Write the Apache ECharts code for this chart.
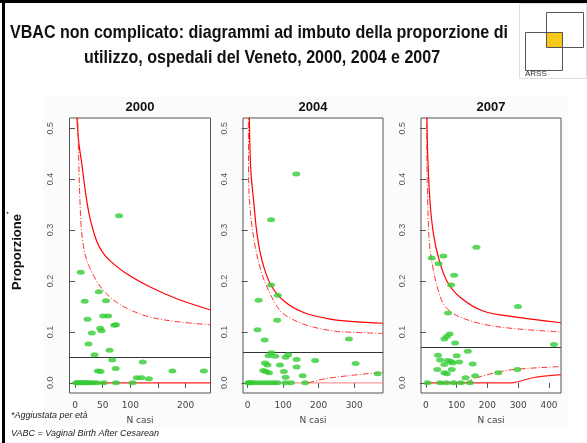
<!DOCTYPE html>
<html>
<head>
<meta charset="utf-8">
<script src="https://cdn.jsdelivr.net/npm/echarts@6/dist/echarts.min.js"></script>
<style>
  html, body { margin: 0; padding: 0; background: #fff; }
  #main { width: 587px; height: 443px; }
</style>
</head>
<body>
<div id="main"></div>
<script>
// anni / pannelli
var years = ['2000', '2004', '2007'];
var refLine = [0.052, 0.058, 0.066];      // proporzione media (linea nera)
var xMins = [-10, -13, -16];
var xMaxs = [245, 381, 439];
var xTicks = [[0, 50, 100, 150, 200], [0, 100, 200, 300], [0, 100, 200, 300, 400]];
var xLabels = [[0, 50, 100, 200], [0, 100, 200, 300], [0, 100, 200, 300, 400]];
var yTicks = [0, 0.1, 0.2, 0.3, 0.4, 0.5];

// ospedali: N casi e proporzione
var n2000 = [79.5, 10.4, 43, 17.6, 56, 22.5, 51, 60, 45.5, 48, 71, 74, 30.4, 24.4, 62.5, 35.3, 67.3, 122.5, 73.5, 41.3, 46.2, 176, 233, 111.6, 120, 133.5,
  2, 5, 8, 11, 14, 17, 20, 23, 28, 33, 40, 52, 74, 104];
var p2000 = [0.328, 0.217, 0.179, 0.160, 0.161, 0.125, 0.131, 0.131, 0.107, 0.102, 0.113, 0.114, 0.098, 0.076, 0.064, 0.055, 0.045, 0.041, 0.028, 0.023, 0.022, 0.023, 0.023, 0.010, 0.010, 0.008,
  0, 0, 0, 0, 0, 0, 0, 0, 0, 0, 0, 0, 0, 0];
var n2004 = [137, 66, 66, 85, 31, 83, 28, 48, 285, 67, 59, 78, 114, 107, 138, 190, 49, 56, 91, 304, 44, 51, 60, 102, 138, 155, 107, 366,
  2, 5, 10, 16, 28, 40, 52, 63, 74, 84, 107, 122, 162];
var p2004 = [0.410, 0.320, 0.192, 0.172, 0.162, 0.123, 0.104, 0.084, 0.086, 0.059, 0.053, 0.052, 0.055, 0.050, 0.046, 0.044, 0.039, 0.035, 0.035, 0.038, 0.024, 0.022, 0.020, 0.022, 0.031, 0.014, 0.011, 0.018,
  0, 0, 0, 0, 0, 0, 0, 0, 0, 0, 0, 0, 0];
var n2007 = [164, 19, 57, 41, 92, 82, 299, 72, 77, 68, 60, 95, 416, 136, 39, 100, 46, 71, 82, 86, 108, 60, 152, 37, 84, 60, 68, 160, 129, 235, 297,
  5, 46, 66, 90, 114, 143];
var p2007 = [0.266, 0.245, 0.249, 0.234, 0.211, 0.192, 0.150, 0.137, 0.096, 0.091, 0.086, 0.078, 0.075, 0.062, 0.054, 0.053, 0.045, 0.044, 0.042, 0.039, 0.041, 0.036, 0.037, 0.026, 0.026, 0.020, 0.018, 0.014, 0.010, 0.020, 0.026,
  0, 0, 0, 0, 0, 0];

// limiti del funnel [N, proporzione]
var up998_2000 = [[2.5, 0.62], [3.6, 0.52], [7, 0.47], [11.6, 0.435], [19.5, 0.370], [26.7, 0.325], [38.9, 0.279], [50, 0.256], [63, 0.240], [93.5, 0.214], [136, 0.188], [184, 0.165], [245, 0.143]];
var up95_2000 = [[4, 0.62], [5, 0.52], [6.7, 0.436], [8.5, 0.370], [11, 0.31], [15, 0.27], [21.8, 0.239], [38.9, 0.200], [55, 0.177], [75.3, 0.158], [100, 0.143], [135.8, 0.129], [185, 0.120], [245, 0.114]];
var lo998_2000 = [[0, 0], [245, 0]];
var lo95_2000 = [];

var up998_2004 = [[4, 0.62], [4.8, 0.52], [7, 0.45], [10.4, 0.403], [17, 0.357], [26.5, 0.292], [40.6, 0.240], [64, 0.194], [101.4, 0.161], [157.7, 0.138], [233, 0.125], [300, 0.120], [381, 0.117]];
var up95_2004 = [[2, 0.62], [2.8, 0.40], [6, 0.35], [10.4, 0.318], [21.7, 0.266], [40.6, 0.213], [64, 0.174], [92, 0.141], [120, 0.127], [157.7, 0.115], [200, 0.107], [252, 0.101], [381, 0.097]];
var lo998_2004 = [[2, 0], [381, 0]];
var lo95_2004 = [[171, 0], [218, 0.008], [284, 0.014], [381, 0.021]];

var up998_2007 = [[2.5, 0.62], [3.2, 0.52], [6.5, 0.435], [14, 0.350], [24.6, 0.292], [40.8, 0.246], [68, 0.200], [111, 0.168], [186, 0.141], [294, 0.129], [439, 0.118]];
var up95_2007 = [[1.5, 0.62], [3, 0.45], [5.2, 0.370], [11.7, 0.272], [24.6, 0.220], [40, 0.182], [57, 0.155], [80, 0.140], [111, 0.129], [186, 0.115], [294, 0.106], [439, 0.100]];
var lo998_2007 = [[3, 0], [278, 0], [348, 0.010], [439, 0.016]];
var lo95_2007 = [[133, 0], [160, 0.009], [241, 0.022], [300, 0.027], [439, 0.032]];

var nCasi = [n2000, n2004, n2007];
var prop = [p2000, p2004, p2007];
var up998 = [up998_2000, up998_2004, up998_2007];
var up95 = [up95_2000, up95_2004, up95_2007];
var lo998 = [lo998_2000, lo998_2004, lo998_2007];
var lo95 = [lo95_2000, lo95_2004, lo95_2007];

var gridLeft = [69.5, 243, 421];
var gridWidth = [141, 140, 140];
var dashDot = [6, 2, 1, 2];

var title1 = 'VBAC non complicato: diagrammi ad imbuto della proporzione di';
var title2 = 'utilizzo, ospedali del Veneto, 2000, 2004 e 2007';
var titleFont = 'bold 19px "Liberation Sans"';
// il titolo originale e' in carattere stretto: comprimo in orizzontale
var ctx = document.createElement('canvas').getContext('2d');
ctx.font = titleFont;
var titleScale = 498 / ctx.measureText(title1).width;

var myChart = echarts.init(document.getElementById('main'), null, { renderer: 'canvas' });

var grids = [], xAxes = [], yAxes = [], series = [], texts = [];
for (var i = 0; i < 3; i++) {
  grids.push({
    left: gridLeft[i], top: 118, width: gridWidth[i], height: 275,
    show: true, borderColor: '#555', borderWidth: 1, backgroundColor: '#fff'
  });
  xAxes.push({
    gridIndex: i, type: 'value', min: xMins[i], max: xMaxs[i],
    splitLine: { show: false },
    axisLine: { show: false },
    axisTick: { show: true, inside: false, length: 5, customValues: xTicks[i], lineStyle: { color: '#555' } },
    axisLabel: { customValues: xLabels[i], margin: 8, fontSize: 9, color: '#444', fontFamily: 'DejaVu Sans' },
    name: 'N casi', nameLocation: 'middle', nameGap: 23,
    nameTextStyle: { fontSize: 9, color: '#444', fontFamily: 'DejaVu Sans' }
  });
  yAxes.push({
    gridIndex: i, type: 'value', min: -0.02, max: 0.52,
    splitLine: { show: false },
    axisLine: { show: false },
    axisTick: { show: true, length: 6, customValues: yTicks, lineStyle: { color: '#555' } },
    axisLabel: {
      customValues: yTicks, rotate: 90, margin: 14, fontSize: 9, color: '#555',
      fontFamily: 'Liberation Sans',
      formatter: function (v) { return v.toFixed(1); }
    }
  });
  var pts = nCasi[i].map(function (n, k) { return [n, prop[i][k]]; });
  series.push({
    type: 'scatter', xAxisIndex: i, yAxisIndex: i, data: pts,
    symbol: 'circle', symbolSize: [8, 5],
    itemStyle: { color: '#33cc33' }, z: 5,
    markLine: {
      silent: true, symbol: 'none', label: { show: false },
      lineStyle: { color: '#333', type: 'solid', width: 1 },
      data: [{ yAxis: refLine[i] }]
    }
  });
  series.push({
    type: 'line', xAxisIndex: i, yAxisIndex: i, data: up998[i],
    showSymbol: false, smooth: 0.35,
    lineStyle: { color: '#ff0000', width: 1.2 }
  });
  series.push({
    type: 'line', xAxisIndex: i, yAxisIndex: i, data: up95[i],
    showSymbol: false, smooth: 0.35,
    lineStyle: { color: '#ff3333', width: 1, type: dashDot }
  });
  series.push({
    type: 'line', xAxisIndex: i, yAxisIndex: i, data: lo998[i],
    showSymbol: false, smooth: 0.3,
    lineStyle: { color: i === 1 ? '#ff9a9a' : '#ff2020', width: 1.2 }, z: 1
  });
  if (lo95[i].length) {
    series.push({
      type: 'line', xAxisIndex: i, yAxisIndex: i, data: lo95[i],
      showSymbol: false, smooth: 0.3,
      lineStyle: { color: '#ff3333', width: 1, type: dashDot }
    });
  }
  texts.push({
    type: 'text', x: gridLeft[i] + gridWidth[i] / 2, y: 107,
    style: { text: years[i], fontSize: 13, fontWeight: 'bold', fontFamily: 'Liberation Sans', fill: '#111', textAlign: 'center', textVerticalAlign: 'middle' }
  });
}

var option = {
  animation: false,
  backgroundColor: '#fff',
  grid: grids,
  xAxis: xAxes,
  yAxis: yAxes,
  series: series,
  graphic: [
    // cornice
    { type: 'rect', shape: { x: 43, y: 97, width: 525, height: 330 }, style: { fill: '#fbfbfb' }, z: -10 },
    { type: 'rect', shape: { x: 0, y: 0, width: 587, height: 3 }, style: { fill: '#000' } },
    { type: 'rect', shape: { x: 2, y: 0, width: 3, height: 443 }, style: { fill: '#000' } },
    // titolo
    { type: 'text', x: 259, y: 33, scaleX: titleScale, style: { text: title1, font: titleFont, fill: '#111', textAlign: 'center', textVerticalAlign: 'middle' } },
    { type: 'text', x: 262, y: 58, scaleX: titleScale, style: { text: title2, font: titleFont, fill: '#111', textAlign: 'center', textVerticalAlign: 'middle' } },
    // logo ARSS
    { type: 'rect', shape: { x: 519.5, y: 3.5, width: 67, height: 75 }, style: { fill: '#fff', stroke: '#ddd', lineWidth: 1 } },
    { type: 'rect', shape: { x: 546, y: 32, width: 17, height: 15 }, style: { fill: '#f6c81a' } },
    { type: 'rect', shape: { x: 525.5, y: 32.5, width: 37, height: 38 }, style: { fill: 'none', stroke: '#555', lineWidth: 1 } },
    { type: 'rect', shape: { x: 546.5, y: 12.5, width: 37, height: 35 }, style: { fill: 'none', stroke: '#555', lineWidth: 1 } },
    { type: 'text', x: 525, y: 74, style: { text: 'ARSS', fontSize: 8, fontFamily: 'Liberation Sans', fill: '#333', textVerticalAlign: 'middle' } },
    // etichetta asse y
    { type: 'text', x: 17, y: 252, rotation: Math.PI / 2, style: { text: 'Proporzione', fontSize: 13, fontWeight: 'bold', fontFamily: 'Liberation Sans', fill: '#111', textAlign: 'center', textVerticalAlign: 'middle' } },
    { type: 'text', x: 9, y: 213, rotation: Math.PI / 2, style: { text: '*', fontSize: 7, fontFamily: 'Liberation Sans', fill: '#111', textAlign: 'center', textVerticalAlign: 'middle' } },
    // note
    { type: 'text', x: 11, y: 415, style: { text: '*Aggiustata per età', fontSize: 9, fontStyle: 'italic', fontFamily: 'Liberation Sans', fill: '#222', textVerticalAlign: 'middle' } },
    { type: 'text', x: 11, y: 433, style: { text: 'VABC = Vaginal Birth After Cesarean', fontSize: 9, fontStyle: 'italic', fontFamily: 'Liberation Sans', fill: '#222', textVerticalAlign: 'middle' } }
  ].concat(texts)
};

myChart.setOption(option);
</script>
</body>
</html>
